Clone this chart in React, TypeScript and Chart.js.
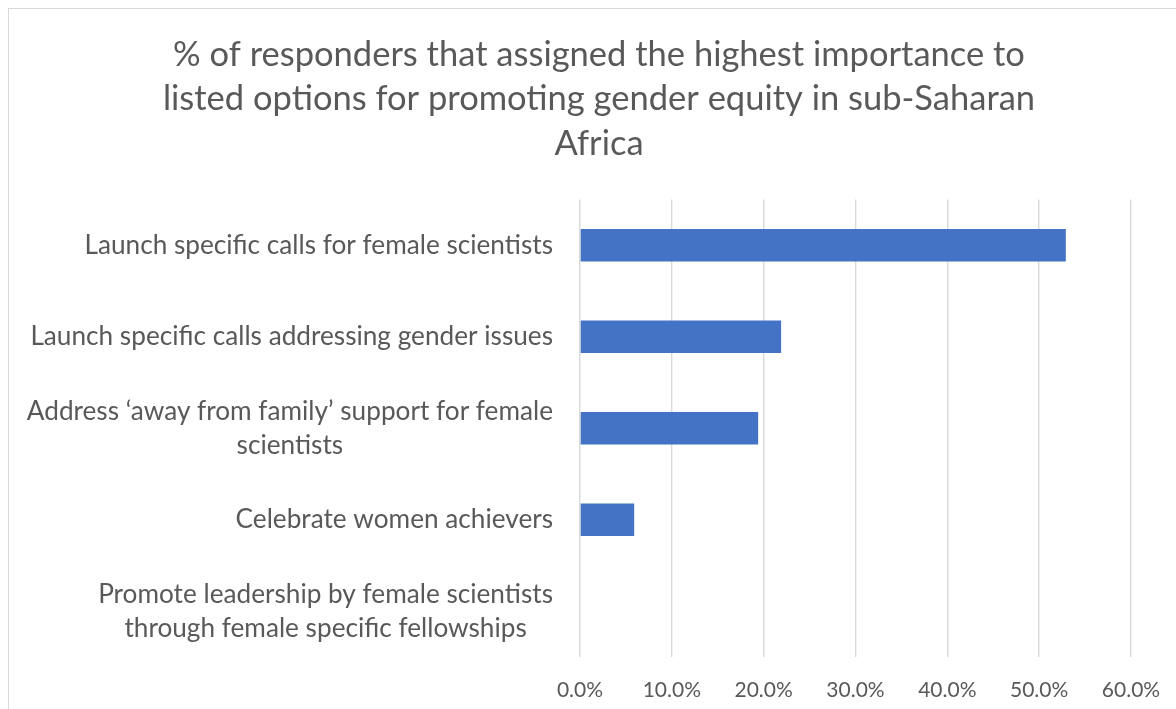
import React, { useEffect, useRef } from "react";
import { Chart, registerables } from "chart.js";

Chart.register(...registerables);

const titleLines = [
  "% of responders that assigned the highest importance to",
  "listed options for promoting gender equity in sub-Saharan",
  "Africa",
];

const categories: string[][] = [
  ["Launch specific calls for female scientists"],
  ["Launch specific calls addressing gender issues"],
  ["Address \u2018away from family\u2019 support for female", "scientists"],
  ["Celebrate women achievers"],
  ["Promote leadership by female scientists", "through female specific fellowships"],
];

// share of responders, in percent
const shares = [52.9, 21.9, 19.4, 5.9, 0];

const xTicks = [0, 10, 20, 30, 40, 50, 60];

const FONT = "Lato, 'Open Sans', sans-serif";
const TEXT = "#595959";
const GRID = "#d9d9d9";
const BAR = "#4472c4";

const LABEL_SIZE = 26.2;
const LABEL_LINE = 34;
const LABEL_PAD = 27;

// Category labels: each block is right-aligned against the axis,
// while the lines inside a block are centred on one another.
const categoryLabels = {
  id: "categoryLabels",
  afterDraw(chart: any) {
    const scale = chart.scales.y;
    const ctx = chart.ctx;
    ctx.save();
    ctx.font = `${LABEL_SIZE}px ${FONT}`;
    ctx.fillStyle = TEXT;
    ctx.textAlign = "center";
    ctx.textBaseline = "middle";
    const labels: string[][] = chart.data.labels;
    labels.forEach((lines, i) => {
      const yc = scale.getPixelForTick(i);
      const w = Math.max(...lines.map((l) => ctx.measureText(l).width));
      const cx = scale.right - LABEL_PAD - w / 2;
      const n = lines.length;
      lines.forEach((line, j) => {
        ctx.fillText(line, cx, yc + (j - (n - 1) / 2) * LABEL_LINE);
      });
    });
    ctx.restore();
  },
};

export default function App() {
  const canvasRef = useRef<HTMLCanvasElement | null>(null);

  useEffect(() => {
    const canvas = canvasRef.current;
    if (!canvas) return;
    const chart = new Chart(canvas, {
      type: "bar",
      data: {
        labels: categories,
        datasets: [
          {
            data: shares,
            backgroundColor: BAR,
            borderWidth: 0,
            categoryPercentage: 1,
            barPercentage: 0.355,
          },
        ],
      },
      options: {
        indexAxis: "y",
        animation: false,
        responsive: false,
        maintainAspectRatio: false,
        layout: { padding: 0 },
        plugins: {
          legend: { display: false },
          tooltip: { enabled: false },
          title: {
            display: true,
            text: titleLines,
            color: TEXT,
            font: { family: FONT, size: 34.5, weight: "normal", lineHeight: 1.3 },
            padding: { top: 23, bottom: 33 },
          },
        },
        scales: {
          x: {
            min: 0,
            max: 60,
            afterBuildTicks: (scale: any) => {
              scale.ticks = xTicks.map((v) => ({ value: v }));
            },
            afterFit: (scale: any) => {
              scale.height = 70;
            },
            grid: { color: GRID, lineWidth: 1.4, drawTicks: false },
            border: { display: false },
            ticks: {
              color: TEXT,
              padding: 21,
              font: { family: FONT, size: 21, lineHeight: 1.2 },
              callback: (v: any) => Number(v).toFixed(1) + "%",
            },
          },
          y: {
            afterFit: (scale: any) => {
              scale.width = 571;
            },
            grid: { display: false, drawTicks: false },
            border: { display: false },
            ticks: { display: false },
          },
          // empty right-hand margin beside the plot
          yRight: {
            type: "category",
            position: "right",
            afterFit: (scale: any) => {
              scale.width = 58;
            },
            grid: { display: false, drawTicks: false },
            border: { display: false },
            ticks: { display: false },
          },
        },
      },
      plugins: [categoryLabels],
    });
    return () => chart.destroy();
  }, []);

  return (
    <div
      style={{
        position: "fixed",
        left: 8,
        top: 8,
        width: 1168,
        height: 701,
        overflow: "hidden",
        background: "#fff",
      }}
    >
      <div
        style={{
          width: 1180,
          height: 718,
          border: `1px solid ${GRID}`,
          background: "#fff",
        }}
      >
        <canvas ref={canvasRef} width={1180} height={718} style={{ display: "block" }} />
      </div>
    </div>
  );
}
